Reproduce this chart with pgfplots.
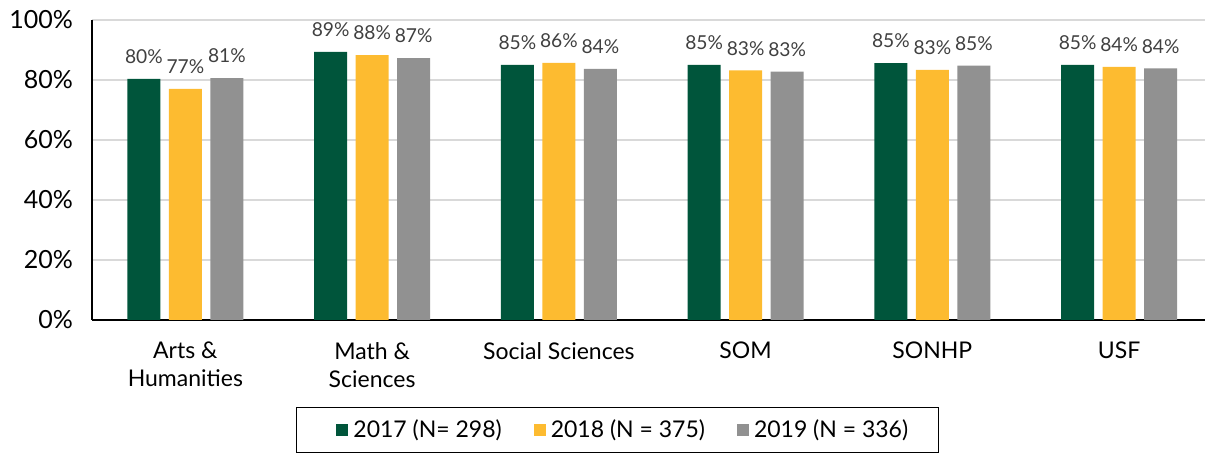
\documentclass[border=0pt]{standalone}
\usepackage{pgfplots}
\pgfplotsset{compat=1.18}
\usepackage{pgfplotstable}
\usepackage{fontspec}
\setmainfont{Lato}
\definecolor{cgreen}{HTML}{00553B}
\definecolor{cgold}{HTML}{FDBB30}
\definecolor{cgray}{HTML}{919191}
\definecolor{cgrid}{HTML}{D9D9D9}
\definecolor{ctext}{HTML}{404040}
\pgfplotstableread{
x v17 l17 v18 l18 v19 l19
0 80.4 80 77.0 77 80.6 81
1 89.4 89 88.3 88 87.3 87
2 85.0 85 85.7 86 83.7 84
3 85.0 85 83.2 83 82.8 83
4 85.6 85 83.4 83 84.8 85
5 85.0 85 84.4 84 83.9 84
}\datatab
\begin{document}
\begin{tikzpicture}
\begin{axis}[
  /pgf/number format/assume math mode=true,
  at={(46pt,67pt)}, anchor=south west,
  scale only axis, width=556.5pt, height=150pt,
  xmin=-0.5, xmax=5.46, ymin=0, ymax=100,
  axis x line=bottom, axis y line=left,
  axis line style={black, line width=0.8pt, -},
  ytick={0,20,...,100},
  yticklabel={\pgfmathprintnumber{\tick}\%},
  yticklabel style={font=\fontsize{12.5}{14}\selectfont, xshift=-6pt},
  xtick={0,...,5},
  xticklabels={{Arts \&\\Humanities},{Math \&\\Sciences},{Social Sciences},{SOM},{SONHP},{USF}},
  xticklabel style={font=\fontsize{11.5}{14}\selectfont, align=center, anchor=north, yshift=-7.5pt},
  major tick length=0pt,
  ymajorgrids, grid style={cgrid, line width=0.8pt},
  ybar, bar width=16.5pt,
  point meta=explicit,
  nodes near coords={\pgfmathprintnumber[fixed,precision=0]{\pgfplotspointmeta}\%},
  nodes near coords style={font=\fontsize{9.6}{10}\selectfont, text=ctext, anchor=south, yshift=4pt},
  legend columns=-1,
  legend style={at={(0.472,-0.367)}, anchor=center, draw=black, line width=0.6pt,
    font=\fontsize{11.5}{13}\selectfont, inner xsep=13pt, inner ysep=4pt,
    /tikz/every even column/.append style={column sep=7pt},
    /tikz/every odd column/.append style={column sep=0.5pt}},
  legend image code/.code={\path (-7pt,0pt); \fill[#1] (0pt,-3pt) rectangle (6pt,3pt);},
]
\addplot[fill=cgreen, draw=none, bar shift=-20.75pt] table[x=x, y=v17, meta=l17]{\datatab};
\addplot[fill=cgold, draw=none, bar shift=0pt] table[x=x, y=v18, meta=l18]{\datatab};
\addplot[fill=cgray, draw=none, bar shift=20.75pt] table[x=x, y=v19, meta=l19]{\datatab};
\legend{2017 (N= 298),2018 (N = 375),2019 (N = 336)}
\end{axis}
\pgfresetboundingbox
\useasboundingbox (0,0) rectangle (602.5pt,227pt);
\end{tikzpicture}
\end{document}
